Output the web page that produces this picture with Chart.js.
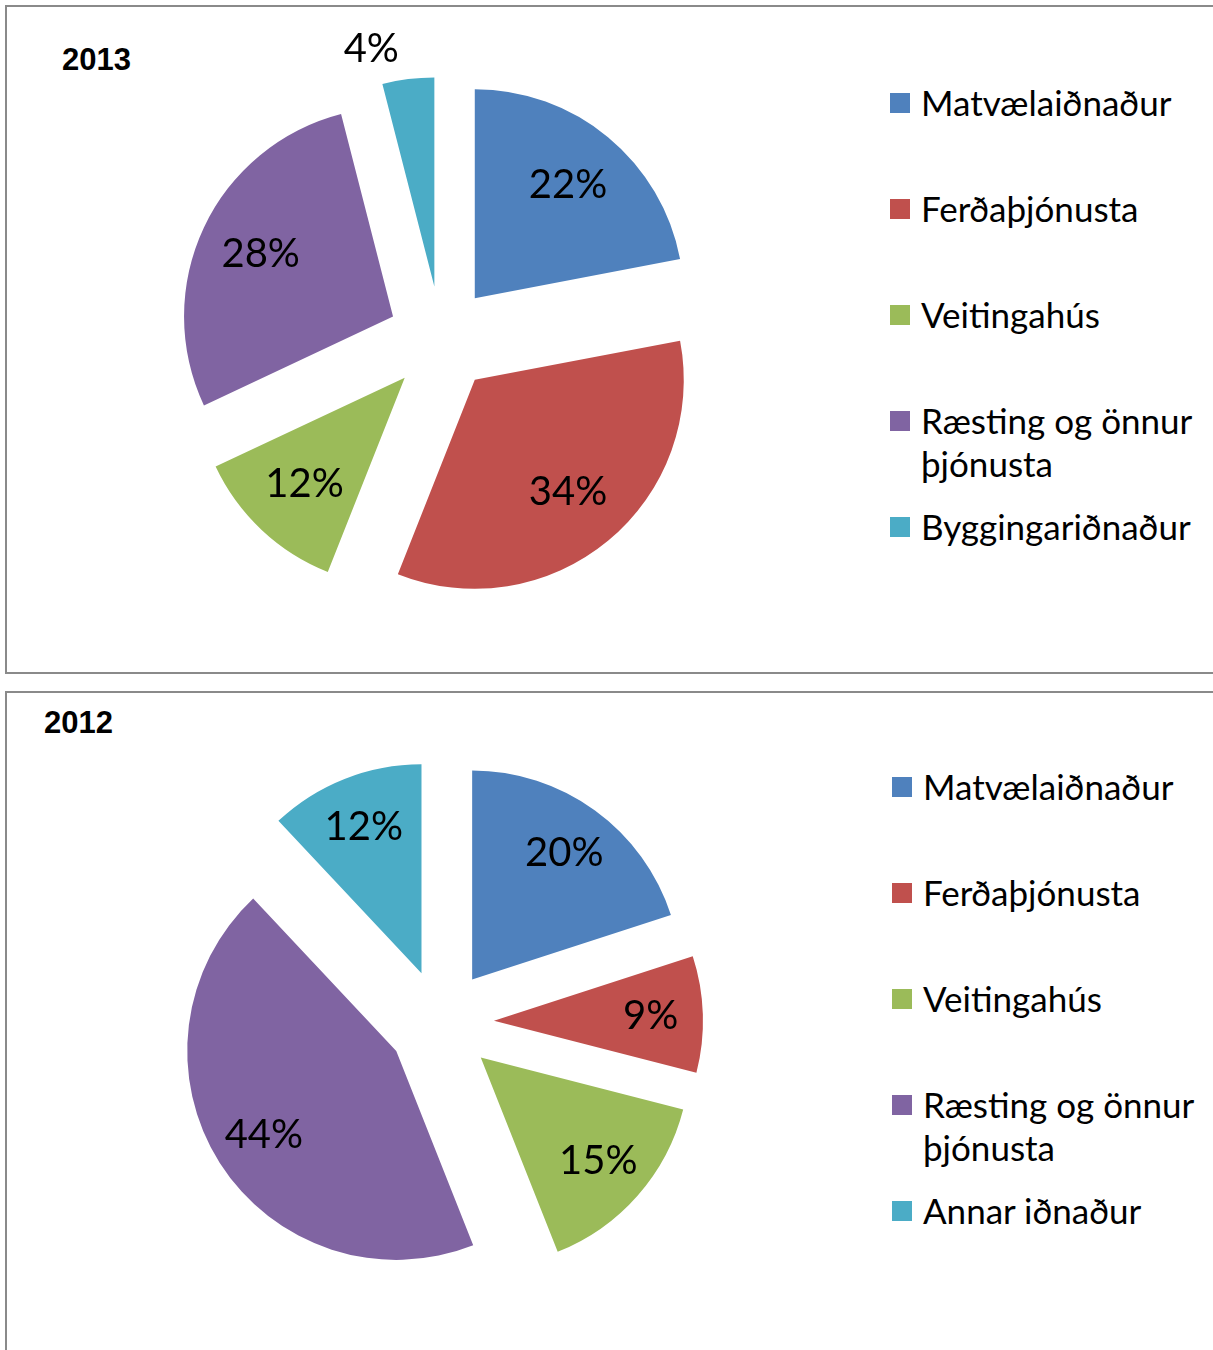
<!DOCTYPE html>
<html lang="is">
<head>
<meta charset="UTF-8">
<title>Skipting eftir atvinnugreinum</title>
<script src="https://cdn.jsdelivr.net/npm/chart.js"></script>
<style>
    body { margin: 0; background: #fff; width: 1213px; height: 1350px; overflow: hidden; position: relative; }
    .box { position: absolute; left: 5px; width: 1250px; border: 2px solid #8a8a8a; }
    #box2013 { top: 5px; height: 665px; }
    #box2012 { top: 691px; height: 700px; }
    .year { position: absolute; font: bold 31px "Liberation Sans", Arial, sans-serif; color: #000; }
    canvas { position: absolute; left: 0; }
    .legend { position: absolute; font: 35px Lato, sans-serif; color: #000; width: 340px; }
    .legend .item { position: relative; height: 106px; line-height: 43px; padding-left: 31px; }
    .legend .sw { position: absolute; left: 0; top: 12px; width: 20px; height: 20px; }
</style>
</head>
<body>
<div class="box" id="box2013"></div>
<div class="box" id="box2012"></div>
<div class="year" style="left:62px; top:42px;">2013</div>
<div class="year" style="left:44px; top:705px;">2012</div>
<canvas id="chart2013" width="882" height="678" style="top:0px"></canvas>
<canvas id="chart2012" width="882" height="665" style="top:690px"></canvas>
<div class="legend" id="legend2013" style="left:890px; top:81px;"></div>
<div class="legend" id="legend2012" style="left:892px; top:765px;"></div>

<script>
    const colors = ['#4F81BD', '#C0504D', '#9BBB59', '#8064A2', '#4BACC6'];

    const labels2013 = ['Matvælaiðnaður', 'Ferðaþjónusta', 'Veitingahús', 'Ræsting og önnur þjónusta', 'Byggingariðnaður'];
    const values2013 = [22, 34, 12, 28, 4];

    const labels2012 = ['Matvælaiðnaður', 'Ferðaþjónusta', 'Veitingahús', 'Ræsting og önnur þjónusta', 'Annar iðnaður'];
    const values2012 = [20, 9, 15, 44, 12];

    const RADIUS = 209;
    const EXPLODE = 53;

    // the built-in "offset" also grows small slices, so push each slice out by hand instead
    const ArcEl = (Chart.elements && Chart.elements.ArcElement) || Chart.registry.getElement('arc');
    const baseArcDraw = ArcEl.prototype.draw;
    ArcEl.prototype.draw = function (ctx) {
        const mid = (this.startAngle + this.endAngle) / 2;
        ctx.save();
        ctx.translate(Math.cos(mid) * EXPLODE, Math.sin(mid) * EXPLODE);
        baseArcDraw.call(this, ctx);
        ctx.restore();
    };

    const pctLabels = {
        id: 'pctLabels',
        afterDatasetsDraw(chart, args, opts) {
            const ctx = chart.ctx;
            const meta = chart.getDatasetMeta(0);
            const data = chart.data.datasets[0].data;
            const total = data.reduce((a, b) => a + b, 0);
            ctx.save();
            ctx.fillStyle = '#000';
            ctx.font = '40px Lato, sans-serif';
            meta.data.forEach((arc, i) => {
                const p = arc.getProps(['x', 'y', 'startAngle', 'endAngle', 'outerRadius']);
                const mid = (p.startAngle + p.endAngle) / 2;
                const pct = Math.round(data[i] / total * 100);
                let dist, dx = 0, align = 'center', base = 'middle';
                if (pct < 5) {
                    // too small, put it outside the slice
                    dist = EXPLODE + p.outerRadius + 10;
                    align = Math.cos(mid) < 0 ? 'right' : 'left';
                    dx = Math.cos(mid) < 0 ? -8 : 8;
                    base = 'bottom';
                } else {
                    dist = EXPLODE + p.outerRadius * opts.ratio;
                }
                ctx.textAlign = align;
                ctx.textBaseline = base;
                ctx.fillText(pct + '%', p.x + Math.cos(mid) * dist + dx, p.y + Math.sin(mid) * dist);
            });
            ctx.restore();
        }
    };

    function makePie(id, labels, values, ratio) {
        new Chart(document.getElementById(id), {
            type: 'pie',
            data: {
                labels: labels,
                datasets: [{
                    data: values,
                    backgroundColor: colors,
                    borderWidth: 0,
                    offset: 0,
                    hoverOffset: 0
                }]
            },
            options: {
                responsive: false,
                animation: false,
                radius: RADIUS,
                layout: { padding: 0 },
                plugins: {
                    legend: { display: false },
                    tooltip: { enabled: false },
                    pctLabels: { ratio: ratio }
                },
                events: []
            },
            plugins: [pctLabels]
        });
    }

    function makeLegend(id, labels) {
        const el = document.getElementById(id);
        labels.forEach((lab, i) => {
            const item = document.createElement('div');
            item.className = 'item';
            const sw = document.createElement('span');
            sw.className = 'sw';
            sw.style.background = colors[i];
            item.appendChild(sw);
            item.appendChild(document.createTextNode(lab));
            el.appendChild(item);
        });
    }

    makePie('chart2013', labels2013, values2013, 0.70);
    makePie('chart2012', labels2012, values2012, 0.75);
    makeLegend('legend2013', labels2013);
    makeLegend('legend2012', labels2012);
</script>
</body>
</html>
